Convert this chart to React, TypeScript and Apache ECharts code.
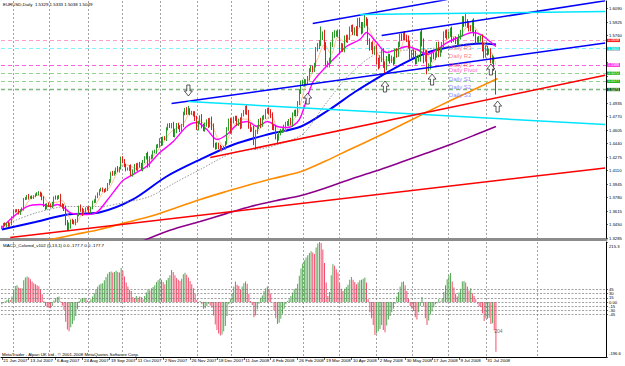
import React, { useEffect, useRef } from "react";
import * as echarts from "echarts";

// ---------- data ----------
const dateLabels = [
  "21 Jun 2007", "13 Jul 2007", "6 Aug 2007", "24 Aug 2007", "19 Sep 2007", "11 Oct 2007",
  "2 Nov 2007", "26 Nov 2007", "18 Dec 2007", "11 Jan 2008", "4 Feb 2008", "26 Feb 2008",
  "19 Mar 2008", "10 Apr 2008", "2 May 2008", "30 May 2008", "17 Jun 2008", "9 Jul 2008", "31 Jul 2008",
];
const labelEvery = 16;
const monthStartBars = [7, 29, 52, 72, 95, 117, 137, 159, 180, 201, 223, 245, 266, 289, 319];
const slotCount = 360;

// closes in pips above 1.0000
const firstOpen = 3415;
const closes = [
  3420, 3450, 3440, 3460, 3440, 3455, 3540, 3615, 3620, 3615,
  3590, 3625, 3640, 3760, 3770, 3800, 3780, 3785, 3780, 3795,
  3815, 3825, 3840, 3815, 3765, 3685, 3660, 3695, 3685, 3675,
  3710, 3780, 3770, 3785, 3795, 3690, 3675, 3640, 3470, 3420,
  3430, 3490, 3480, 3470, 3500, 3570, 3665, 3630, 3585, 3620,
  3645, 3650, 3610, 3650, 3730, 3740, 3790, 3825, 3870, 3880,
  3870, 3865, 3880, 3945, 3985, 4080, 4065, 4090, 4135, 4110,
  4140, 4260, 4220, 4175, 4130, 4130, 4155, 4065, 4105, 4175,
  4130, 4185, 4170, 4130, 4225, 4265, 4300, 4175, 4265, 4280,
  4340, 4345, 4410, 4410, 4490, 4440, 4505, 4500, 4625, 4665,
  4650, 4670, 4550, 4590, 4670, 4635, 4610, 4660, 4815, 4850,
  4815, 4840, 4815, 4815, 4805, 4745, 4630, 4700, 4760, 4650,
  4620, 4670, 4715, 4660, 4730, 4640, 4420, 4390, 4430, 4400,
  4370, 4390, 4395, 4450, 4615, 4715, 4590, 4720, 4750, 4745,
  4685, 4720, 4650, 4790, 4825, 4870, 4815, 4655, 4610, 4615,
  4485, 4585, 4640, 4720, 4665, 4755, 4770, 4830, 4850, 4825,
  4780, 4640, 4630, 4530, 4500, 4570, 4590, 4600, 4650, 4680,
  4685, 4720, 4680, 4800, 4825, 4800, 4940, 5080, 5180, 5185,
  5190, 5195, 5240, 5340, 5360, 5350, 5400, 5590, 5630, 5670,
  5740, 5770, 5630, 5410, 5415, 5450, 5650, 5770, 5780, 5780,
  5785, 5595, 5630, 5600, 5730, 5710, 5735, 5840, 5850, 5805,
  5825, 5790, 5935, 5890, 5820, 5895, 5945, 5910, 5680, 5620,
  5640, 5565, 5595, 5450, 5395, 5475, 5545, 5410, 5365, 5480,
  5500, 5455, 5470, 5445, 5565, 5530, 5655, 5745, 5735, 5770,
  5735, 5720, 5645, 5510, 5550, 5530, 5445, 5470, 5480, 5780,
  5670, 5480, 5540, 5370, 5385, 5470, 5520, 5500, 5525, 5640,
  5535, 5580, 5650, 5770, 5795, 5755, 5780, 5820, 5710, 5710,
  5690, 5675, 5745, 5790, 5950, 5910, 5920, 5890, 5850, 5840,
  5915, 5790, 5710, 5710, 5715, 5730, 5610, 5530, 5600, 5560,
  5560, 5460, 5485, 5332, 5049,
];
const wickUp = [
  15, 20, 25, 12, 22, 18, 10, 20, 15, 18, 25, 12, 20, 15, 18, 10, 22, 15, 20, 12,
  15, 20, 18, 12, 25, 30, 20, 15, 25, 22, 18, 12, 25, 20, 15, 30, 20, 25, 40, 35,
  45, 20, 30, 25, 18, 20, 15, 30, 25, 20, 15, 20, 25, 18, 12, 20, 15, 18, 12, 20,
  22, 15, 18, 12, 20, 15, 25, 18, 12, 30, 15, 20, 25, 30, 20, 18, 22, 30, 20, 15,
  25, 20, 30, 35, 15, 20, 25, 40, 20, 25, 15, 20, 18, 25, 15, 30, 20, 25, 15, 20,
  25, 20, 35, 30, 20, 25, 30, 20, 15, 25, 35, 60, 30, 25, 20, 30, 35, 20, 25, 40,
  30, 25, 20, 35, 25, 40, 45, 30, 25, 20, 25, 20, 15, 20, 25, 30, 40, 25, 20, 30,
  35, 25, 40, 20, 25, 30, 45, 35, 30, 25, 40, 20, 25, 20, 35, 25, 20, 30, 25, 30,
  35, 40, 30, 35, 25, 20, 30, 25, 20, 25, 30, 20, 35, 20, 25, 30, 20, 25, 30, 35,
  40, 30, 25, 20, 35, 30, 25, 30, 40, 35, 130, 40, 60, 50, 35, 40, 30, 35, 45, 40,
  50, 45, 40, 35, 30, 40, 35, 30, 40, 45, 35, 50, 40, 45, 35, 30, 73, 40, 55, 45,
  40, 50, 35, 55, 40, 45, 40, 60, 35, 30, 40, 35, 45, 30, 35, 40, 30, 35, 40, 30,
  45, 35, 40, 50, 35, 40, 45, 35, 40, 30, 60, 55, 40, 45, 35, 30, 40, 35, 30, 40,
  45, 35, 30, 40, 35, 40, 30, 35, 50, 30, 40, 35, 30, 40, 50, 45, 118, 40, 45, 35,
  40, 55, 40, 35, 40, 30, 45, 50, 40, 35, 40, 45, 40, 19, 1,
];
const wickDn = [
  20, 15, 12, 25, 18, 20, 15, 12, 20, 15, 18, 22, 15, 20, 12, 18, 25, 15, 20, 18,
  12, 15, 20, 25, 18, 20, 30, 25, 20, 18, 25, 20, 15, 18, 25, 20, 30, 25, 30, 45,
  50, 30, 25, 20, 30, 25, 20, 25, 30, 20, 25, 18, 20, 25, 15, 20, 25, 18, 20, 15,
  20, 25, 18, 20, 15, 25, 20, 18, 25, 20, 25, 18, 20, 25, 30, 20, 25, 20, 30, 25,
  20, 30, 25, 20, 30, 25, 20, 30, 25, 20, 25, 20, 30, 25, 20, 30, 25, 20, 30, 25,
  20, 25, 30, 35, 25, 20, 30, 25, 20, 30, 25, 20, 30, 25, 35, 30, 25, 30, 20, 25,
  30, 35, 25, 30, 20, 35, 30, 25, 20, 30, 20, 25, 20, 30, 25, 20, 30, 25, 35, 30,
  25, 30, 35, 25, 20, 30, 25, 35, 30, 25, 65, 120, 30, 25, 35, 20, 25, 30, 25, 30,
  30, 35, 30, 40, 60, 25, 30, 20, 25, 30, 25, 30, 20, 35, 25, 30, 25, 30, 35, 30,
  50, 40, 35, 30, 25, 40, 35, 30, 25, 35, 40, 35, 50, 15, 40, 45, 35, 30, 40, 35,
  40, 55, 35, 40, 45, 35, 40, 30, 35, 40, 45, 35, 40, 30, 45, 35, 40, 30, 35, 45,
  40, 35, 40, 45, 50, 35, 40, 45, 80, 30, 35, 40, 30, 45, 35, 40, 30, 35, 40, 30,
  35, 40, 45, 50, 40, 45, 40, 35, 30, 40, 45, 60, 40, 85, 45, 40, 35, 30, 40, 35,
  40, 35, 30, 35, 40, 45, 30, 35, 40, 30, 35, 40, 30, 35, 40, 45, 40, 35, 40, 30,
  35, 40, 45, 35, 40, 30, 45, 50, 40, 45, 35, 40, 45, 4, 11,
];

// moving averages: [bar, price]
const fastMA = [[0,1.3430],[4,1.3445],[8,1.3560],[12,1.3610],[16,1.3740],[20,1.3800],[24,1.3810],[28,1.3710],[32,1.3720],[36,1.3740],[40,1.3540],[44,1.3470],[48,1.3590],[52,1.3630],[56,1.3700],[60,1.3840],[64,1.3900],[68,1.4060],[72,1.4180],[76,1.4170],[80,1.4130],[84,1.4170],[88,1.4240],[92,1.4330],[96,1.4450],[100,1.4570],[104,1.4630],[108,1.4680],[112,1.4810],[116,1.4760],[120,1.4690],[124,1.4690],[128,1.4520],[132,1.4410],[136,1.4570],[140,1.4710],[144,1.4740],[148,1.4720],[152,1.4590],[156,1.4690],[160,1.4800],[164,1.4620],[168,1.4590],[172,1.4690],[176,1.4800],[180,1.5100],[184,1.5280],[188,1.5480],[192,1.5650],[196,1.5530],[200,1.5740],[204,1.5680],[208,1.5770],[212,1.5840],[216,1.5890],[220,1.5780],[224,1.5520],[228,1.5460],[232,1.5460],[236,1.5520],[240,1.5710],[244,1.5610],[248,1.5520],[252,1.5590],[256,1.5430],[260,1.5550],[264,1.5680],[268,1.5750],[272,1.5730],[276,1.5850],[280,1.5880],[284,1.5780],[288,1.5640],[292,1.5530],[294,1.5400]];
const pinkMA = [[0,1.3413],[7,1.3548],[15,1.3670],[23,1.3695],[29,1.3670],[33,1.3695],[36,1.3670],[42,1.3584],[51,1.3572],[57,1.3609],[63,1.3756],[69,1.3915],[72,1.3988],[78,1.4061],[86,1.4159],[94,1.4330],[102,1.4464],[110,1.4648],[116,1.4697],[122,1.4611],[128,1.4489],[134,1.4550],[140,1.4672],[146,1.4709],[152,1.4648],[158,1.4709],[164,1.4648],[170,1.4636],[177,1.4733],[185,1.5186],[193,1.5381],[199,1.5503],[205,1.5626],[213,1.5711],[217,1.5797],[223,1.5674],[229,1.5552],[235,1.5589],[241,1.5626],[247,1.5589],[253,1.5528],[259,1.5589],[265,1.5674],[273,1.5748],[280,1.5797],[285,1.5772],[289,1.5711],[294,1.5626]];
const grayMA = [[5,1.3475],[20,1.3590],[39,1.3670],[58,1.3670],[73,1.3720],[88,1.3792],[103,1.3960],[118,1.4122],[138,1.4330],[158,1.4391],[178,1.4538],[185,1.4700],[191,1.4880],[207,1.5283],[225,1.5552],[249,1.5589],[267,1.5626],[285,1.5674],[294,1.5650]];
const blueMA = [[0,1.3389],[20,1.3480],[39,1.3572],[58,1.3597],[78,1.3756],[98,1.4037],[118,1.4244],[138,1.4428],[158,1.4550],[178,1.4648],[195,1.4856],[210,1.5070],[225,1.5259],[240,1.5430],[255,1.5565],[270,1.5630],[285,1.5662],[294,1.5650]];
const orangeMA = [[25,1.3250],[44,1.3330],[58,1.3389],[73,1.3470],[88,1.3548],[103,1.3650],[118,1.3756],[133,1.3850],[148,1.3939],[163,1.4020],[178,1.4098],[193,1.4230],[207,1.4367],[222,1.4510],[237,1.4660],[252,1.4815],[267,1.4966],[281,1.5100],[295,1.5234]];
const purpleMA = [[84,1.3250],[100,1.3380],[118,1.3487],[133,1.3580],[148,1.3670],[163,1.3740],[178,1.3804],[193,1.3900],[207,1.4000],[222,1.4100],[237,1.4208],[252,1.4318],[267,1.4428],[281,1.4540],[294,1.4648]];

// drawn trend lines: [bar, price] endpoints
const trendLines = [
  { color: "#0000ff", pts: [[185, 1.5907], [265, 1.6200]] },
  { color: "#0000ff", pts: [[226, 1.5760], [359, 1.6185]] },
  { color: "#00e5ff", pts: [[213, 1.6017], [359, 1.6053]] },
  { color: "#0000ff", pts: [[101, 1.4929], [359, 1.5670]] },
  { color: "#00e5ff", pts: [[111, 1.4953], [359, 1.4672]] },
  { color: "#ff0000", pts: [[124, 1.4269], [359, 1.5275]] },
  { color: "#ff0000", pts: [[5, 1.3291], [359, 1.4141]] },
];

const pivotNames = ["Daily R3", "Daily R2", "Daily R1", "Daily Pivot", "Daily S1", "Daily S2", "Daily S3"];
const pivotValues = [1.5658, 1.5561, 1.5448, 1.5388, 1.5272, 1.5177, 1.5073];
const cyanLevel = 1.5605;
const pivotLabelBar = 266;
const upArrows = [[182, 1.4990], [228, 1.5137], [256, 1.5222], [291, 1.5345], [295, 1.4892]];
const downArrows = [[111, 1.5088]];

const macd = [
  -8, -2, 3, 8, 10, 8, 20, 45, 58, 60, 52, 50, 50, 78, 88, 92, 88, 82, 74, 68,
  64, 60, 57, 46, 28, 4, -14, -18, -20, -22, -14, 6, 14, 18, 20, 2, -12, -28, -70, -98,
  -104, -90, -78, -66, -50, -26, 4, 12, 14, 16, 12, 6, 4, 10, 20, 32, 45, 55, 62, 66,
  68, 78, 90, 102, 108, 110, 106, 108, 112, 108, 106, 122, 112, 92, 70, 56, 44, 40, 18, 14,
  22, 16, 20, 18, 10, 22, 34, 46, 42, 50, 54, 60, 72, 78, 84, 80, 72, 64, 78, 86,
  96, 115, 108, 96, 86, 80, 76, 84, 100, 105, 98, 88, 76, 64, 50, 30, 8, -2, 4, -8,
  -24, -22, -14, -6, -12, -20, -48, -80, -100, -112, -120, -116, -104, -86, -50, -8, 10, 32, 56, 74,
  62, 58, 44, 56, 68, 74, 66, 30, 4, -10, -54, -48, -26, -6, 16, 24, 40, 50, 56, 48,
  30, 0, -30, -58, -78, -74, -60, -42, -24, -8, 4, 10, 22, 34, 46, 50, 66, 94, 120, 138,
  150, 160, 168, 176, 182, 178, 172, 196, 210, 215.3, 212, 188, 140, 70, 22, 36, 96, 136, 130, 118,
  106, 68, 48, 40, 48, 54, 62, 80, 90, 80, 72, 64, 70, 78, 80, 84, 88, 70, 10, -36,
  -58, -82, -118, -112, -104, -96, -82, -100, -108, -84, -62, -50, -36, -24, -6, 20, 36, 56, 72, 74,
  60, 40, 12, -14, -24, -32, -54, -62, -36, -14, 18, -16, -58, -82, -66, -44, -34, -18, -8, -4,
  10, 2, 14, 36, 60, 82, 96, 104, 74, 52, 30, 20, 34, 48, 74, 76, 70, 56, 42, 50,
  32, 22, 10, -6, -16, -18, -40, -68, -58, -60, -56, -78, -76, -102, -177.7,
];
const macdLevels = [45, 30, 15, 0, -15, -30, -45];
// price scale ticks; the labels under the coloured level boxes are hidden there
const priceTicks = [1.3285, 1.345, 1.3615, 1.378, 1.3945, 1.411, 1.4275, 1.444, 1.4605, 1.477, 1.4935, 1.51, 1.5265, 1.543, 1.5595, 1.576, 1.5925, 1.609];
const priceLabelTicks = [1.3285, 1.345, 1.3615, 1.378, 1.3945, 1.411, 1.4275, 1.444, 1.4605, 1.477, 1.4935, 1.576, 1.5925, 1.609];
const macdTicks = [215.3, 45, 30, 15, 0, -15, -30, -45, -196.6];
const macdNote = { bar: 293, value: -95, text: "204" };

// ---------- styles ----------
const FONT = "Liberation Sans";
const bullColor = "#2a9a2a";
const bearColor = "#e01e1e";
const pivotLineColors = ["#ff9cc8", "#ff9090", "#ff9cc8", "#ff5ee0", "#8fd48f", "#8fd48f", "#7fb87f"];
const pivotBoxColors = ["#ff2020", "#ff2020", "#ff2020", "#ff30ff", "#22b822", "#22b822", "#0b600b"];
const pivotTextColors = ["#ff5a5a", "#ff5a5a", "#ff5a5a", "#ff30c0", "#6a6aff", "#6a6aff", "#6a6aff"];

const upArrowPath = "path://M5,0 L10,6 L7,6 L7,13 L3,13 L3,6 L0,6 Z";
const downArrowPath = "path://M3,0 L7,0 L7,7 L10,7 L5,13 L0,7 L3,7 Z";

export default function App() {
  const ref = useRef<HTMLDivElement>(null);

  useEffect(() => {
    if (!ref.current) return;
    const chart = echarts.init(ref.current, undefined, { renderer: "svg" });
    const toPrice = (p: number) => 1 + p / 10000;
    const candles = closes.map((c, i) => {
      const o = i === 0 ? firstOpen : closes[i - 1];
      const hi = Math.max(o, c) + wickUp[i];
      const lo = Math.min(o, c) - wickDn[i];
      return [toPrice(o), toPrice(c), toPrice(lo), toPrice(hi)];
    });
    const slots = Array.from({ length: slotCount }, (_, i) => String(i));
    const monthSet = new Set(monthStartBars);
    const isLabel = (i: number) => i % labelEvery === 0 && i / labelEvery < dateLabels.length;

    const macdData = macd.map((v, i) => ({
      value: v,
      itemStyle: { color: i > 0 && v < macd[i - 1] ? "#f2506e" : "#55a655" },
    }));

    const gridSplit = {
      show: true,
      interval: (i: number) => monthSet.has(i),
      lineStyle: { color: "#8a8a8a", type: [2, 2], width: 0.8 },
    };

    const boxLabel = (v: number, bg: string) => ({
      show: true, position: "end", distance: 1, formatter: v.toFixed(4),
      backgroundColor: bg, color: "#fff", fontSize: 3.6, lineHeight: 3.3, fontFamily: FONT,
      padding: [0, 1, 0, 1],
    });
    const pivotMarks: any[] = pivotValues.map((v, i) => ({
      yAxis: v,
      lineStyle: { color: pivotLineColors[i], type: [4, 3], width: i === 6 ? 1.4 : 1 },
      label: boxLabel(v, pivotBoxColors[i]),
    }));
    pivotMarks.push({
      yAxis: cyanLevel,
      lineStyle: { color: "#7ff3ff", type: [4, 3], width: 1 },
      label: boxLabel(cyanLevel, "#00d8d8"),
    });

    const maLine = (data: number[][], color: string, width: number, type: any = "solid", z = 3) => ({
      type: "line", xAxisIndex: 0, yAxisIndex: 0, data, showSymbol: false, symbol: "none",
      smooth: 0.3, lineStyle: { color, width, type }, silent: true, z,
    });

    const option: any = {
      animation: false,
      backgroundColor: "#ffffff",
      textStyle: { fontFamily: FONT },
      grid: [
        { left: 1, top: 1, width: 605, height: 238 },
        { left: 1, top: 242, width: 605, height: 115 },
      ],
      xAxis: [
        {
          type: "category", gridIndex: 0, data: slots, boundaryGap: true,
          axisLine: { show: true, onZero: false, lineStyle: { color: "#8c8c8c", width: 3 } },
          axisTick: { show: false }, axisLabel: { show: false }, splitLine: gridSplit,
        },
        {
          type: "category", gridIndex: 1, data: slots, boundaryGap: true,
          axisLine: { show: true, onZero: false, lineStyle: { color: "#000", width: 1 } },
          axisTick: { show: true, interval: isLabel, alignWithLabel: true, length: 3, lineStyle: { color: "#000", width: 0.6 } },
          axisLabel: {
            show: true, interval: isLabel, align: "left", margin: 1, padding: [0, 0, 0, 1.5],
            formatter: (v: string) => dateLabels[Number(v) / labelEvery] ?? "",
            fontSize: 4.4, color: "#000", fontFamily: FONT,
          },
          splitLine: gridSplit,
        },
      ],
      yAxis: [
        {
          type: "value", gridIndex: 0, position: "right", min: 1.3273, max: 1.6182,
          splitLine: { show: false },
          axisLine: { show: true, lineStyle: { color: "#000", width: 1 } },
          axisTick: { show: true, customValues: priceTicks, length: 2, lineStyle: { color: "#000", width: 0.6 } },
          axisLabel: {
            customValues: priceLabelTicks, formatter: (v: number) => v.toFixed(4), margin: 3,
            fontSize: 4.2, color: "#000", fontFamily: FONT, showMinLabel: true, showMaxLabel: true,
          },
        },
        {
          type: "value", gridIndex: 1, position: "right", min: -196.6, max: 215.3,
          splitLine: { show: false },
          axisLine: { show: true, lineStyle: { color: "#000", width: 1 } },
          axisTick: { show: true, customValues: macdTicks, length: 2, lineStyle: { color: "#000", width: 0.6 } },
          axisLabel: {
            customValues: macdTicks, margin: 3,
            formatter: (v: number) =>
              v === 215.3 ? "{t|215.3}" : v === -196.6 ? "{b|-196.6}" : v === 0 ? "0.00" : String(v),
            rich: {
              t: { fontSize: 4.2, padding: [8, 0, 0, 0], fontFamily: FONT, color: "#000" },
              b: { fontSize: 4.2, padding: [0, 0, 8, 0], fontFamily: FONT, color: "#000" },
            },
            fontSize: 4.2, color: "#000", fontFamily: FONT, showMinLabel: true, showMaxLabel: true,
          },
        },
      ],
      series: [
        maLine(purpleMA, "#8b008b", 1.6),
        maLine(orangeMA, "#ff8c00", 1.6),
        maLine(blueMA, "#0000ff", 2),
        maLine(grayMA, "#808080", 0.8, [1.5, 1.5]),
        {
          type: "candlestick", xAxisIndex: 0, yAxisIndex: 0, data: candles, barWidth: 1.2, z: 4,
          itemStyle: { color: bullColor, color0: bearColor, borderColor: bullColor, borderColor0: bearColor, borderWidth: 1 },
          markLine: { symbol: "none", silent: true, animation: false, data: pivotMarks, z: 2 },
        },
        maLine(fastMA, "#ffb070", 0.8, "solid", 4),
        maLine(pinkMA, "#ff00ff", 1.4, "solid", 4),
        ...trendLines.map((t) => ({
          type: "line", xAxisIndex: 0, yAxisIndex: 0, data: t.pts, showSymbol: false, symbol: "none",
          lineStyle: { color: t.color, width: 1.5 }, silent: true, z: 5,
        })),
        {
          type: "scatter", xAxisIndex: 0, yAxisIndex: 0, symbolSize: 0.1, z: 6, silent: true,
          data: pivotValues.map((v, i) => ({ value: [pivotLabelBar, v], label: { color: pivotTextColors[i] } })),
          label: {
            show: true, position: [0, 1.5], align: "left", verticalAlign: "top",
            formatter: (p: any) => pivotNames[p.dataIndex], fontSize: 6, lineHeight: 4.5, fontFamily: FONT,
          },
        },
        {
          type: "scatter", xAxisIndex: 0, yAxisIndex: 0, data: upArrows, symbol: upArrowPath, symbolSize: [8, 11],
          itemStyle: { color: "#ffffff", borderColor: "#000", borderWidth: 0.8 }, z: 7, silent: true,
        },
        {
          type: "scatter", xAxisIndex: 0, yAxisIndex: 0, data: downArrows, symbol: downArrowPath, symbolSize: [8, 11],
          itemStyle: { color: "#ffffff", borderColor: "#000", borderWidth: 0.8 }, z: 7, silent: true,
        },
        {
          type: "bar", xAxisIndex: 1, yAxisIndex: 1, data: macdData, barWidth: 1, z: 3,
          markLine: {
            symbol: "none", silent: true, animation: false,
            lineStyle: { color: "#7a7a7a", type: [2, 1.5], width: 0.7 }, label: { show: false },
            data: macdLevels.map((v) => ({ yAxis: v })),
          },
        },
        {
          type: "scatter", xAxisIndex: 1, yAxisIndex: 1, symbolSize: 0.1, silent: true, z: 6,
          data: [[macdNote.bar, macdNote.value]],
          label: { show: true, position: [0, 0], align: "left", verticalAlign: "top", formatter: macdNote.text, fontSize: 5, color: "#404040", fontFamily: FONT },
        },
      ],
      graphic: [
        { type: "text", left: 3, top: 2, style: { text: "EURUSD,Daily  1.5329 1.5333 1.5038 1.5049", fontSize: 4.4, fill: "#000", fontFamily: FONT } },
        { type: "text", left: 3, top: 243, style: { text: "MACD_Colored_v102 (5,13,1) 0.0 -177.7 0.0 -177.7", fontSize: 4.4, fill: "#000", fontFamily: FONT } },
        { type: "text", left: 2, top: 352, style: { text: "MetaTrader - Alpari UK Ltd., \u00a9 2001-2008 MetaQuotes Software Corp.", fontSize: 4.4, fill: "#000", fontFamily: FONT } },
      ],
    };
    chart.setOption(option);
    return () => chart.dispose();
  }, []);

  return (
    <div
      ref={ref}
      style={{ position: "fixed", left: 0, top: 0, width: 625, height: 366, background: "#fff" }}
    />
  );
}
